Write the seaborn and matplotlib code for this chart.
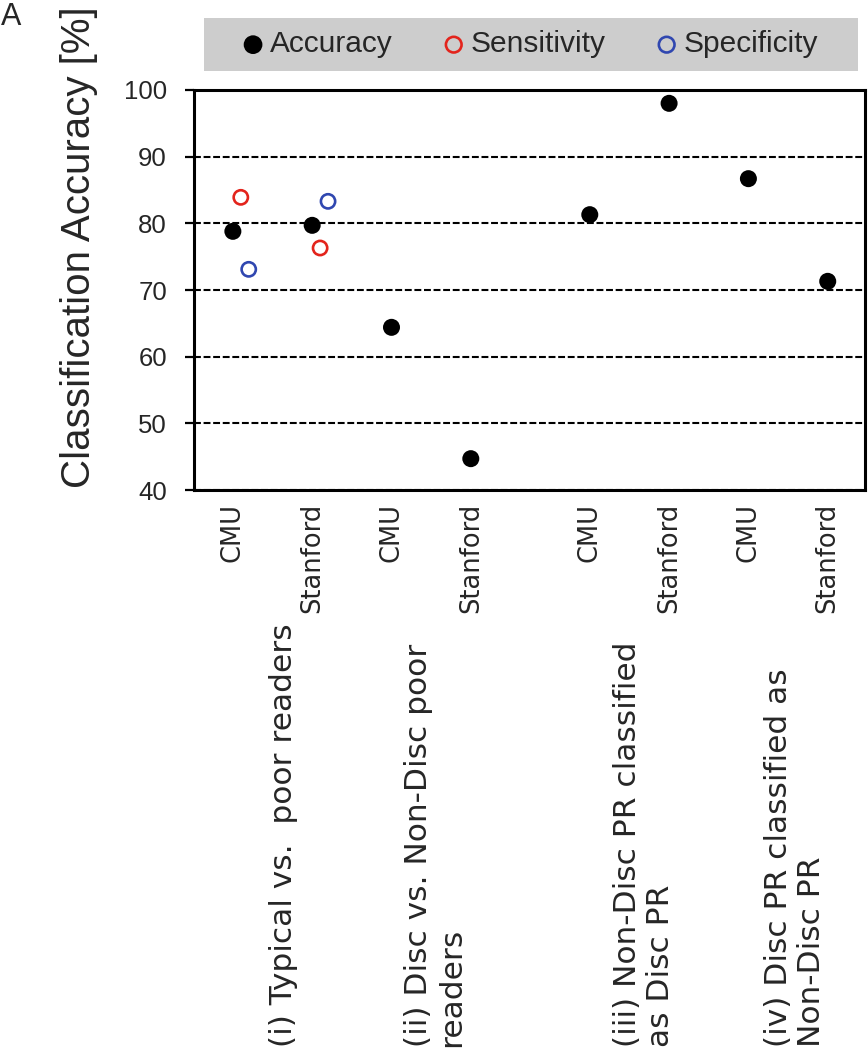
import numpy as np
import pandas as pd
import seaborn as sns
import matplotlib.pyplot as plt
from matplotlib.patches import Rectangle

# --- values ---
groups = ["(i) Typical vs.  poor readers",
          "(ii) Disc vs. Non-Disc poor\nreaders",
          "(iii) Non-Disc PR classified\nas Disc PR",
          "(iv) Disc PR classified as\nNon-Disc PR"]
sites = ["CMU", "Stanford"]
accuracy = [78.8, 79.7, 64.4, 44.7, 81.3, 98.0, 86.7, 71.3]
sensitivity = [83.9, 76.3]   # only group (i)
specificity = [73.1, 83.3]   # only group (i)
yticks = [40, 50, 60, 70, 80, 90, 100]

# category positions: 2 sites per group, extra half-slot between (ii) and (iii)
labels = [s for g in groups for s in sites]
idx = np.arange(len(labels))
xpos = idx + 0.5 * (idx >= 4)

acc = pd.DataFrame({"x": xpos, "y": accuracy})
sens = pd.DataFrame({"x": xpos[:2] + 0.1, "y": sensitivity})
spec = pd.DataFrame({"x": xpos[:2] + 0.2, "y": specificity})

sns.set_style("ticks")
plt.rcParams["font.family"] = ["Liberation Sans", "DejaVu Sans"]

fig = plt.figure(figsize=(8.68, 10.5), dpi=100)
ax = fig.add_axes([194 / 868, 1 - 490 / 1050, (865 - 194) / 868, 400 / 1050])

sns.scatterplot(data=acc, x="x", y="y", ax=ax, color="black", s=150,
                edgecolor="none", label="Accuracy", zorder=3)
sns.scatterplot(data=sens, x="x", y="y", ax=ax, marker="o", s=105,
                facecolors="none", edgecolor="#e3241c", linewidth=1.9,
                label="Sensitivity", zorder=3)
sns.scatterplot(data=spec, x="x", y="y", ax=ax, marker="o", s=105,
                facecolors="none", edgecolor="#3047b0", linewidth=1.9,
                label="Specificity", zorder=3)

ax.set_xlim(xpos[0] - 0.49, xpos[-1] + 0.47)
ax.set_ylim(40, 100)
ax.set_yticks(yticks)
ax.yaxis.grid(True, color="black", linestyle=(0, (3.3, 1.3)), linewidth=1.5)
ax.set_axisbelow(True)

ax.set_xticks(xpos)
ax.set_xticklabels(labels, rotation=90, fontsize=18.5, family="DejaVu Sans")
ax.tick_params(axis="x", length=0, pad=9)
ax.tick_params(axis="y", direction="out", length=6.5, width=1.6,
               labelsize=18.5, pad=13, color="black")
for sp in ax.spines.values():
    sp.set_visible(True)
    sp.set_linewidth(2.2)
    sp.set_color("black")

ax.set_xlabel("")
ax.set_ylabel("Classification Accuracy [%]", fontsize=29, va="center")
ax.yaxis.set_label_coords(-0.172, 0.606)

# group captions under the site labels
cap_x = [283, 435, 644, 795]
for g, cx in zip(groups, cap_x):
    fig.text(cx / 868, 1 - 1047 / 1050, g, rotation=90, rotation_mode="anchor",
             ha="left", va="center", fontsize=22.5, family="DejaVu Sans",
             linespacing=1.2, multialignment="left")

# legend in a grey band above the plot
h, l = ax.get_legend_handles_labels()
if ax.legend_:
    ax.legend_.remove()
fig.add_artist(Rectangle((204 / 868, 1 - 71 / 1050), (858 - 204) / 868, 53 / 1050,
                         transform=fig.transFigure, facecolor="#cdcdcd",
                         edgecolor="none", zorder=0))
fig.legend(h, l, loc="center", bbox_to_anchor=(531 / 868, 1 - 44.5 / 1050),
           ncol=3, frameon=False, fontsize=21.5, handlelength=0.6,
           handletextpad=0.26, columnspacing=1.75, scatterpoints=1,
           markerscale=1.1, borderaxespad=0)

fig.text(1 / 868, 1 - 2 / 1050, "A", ha="left", va="top", fontsize=22)

fig.savefig("out.png", dpi=100)
